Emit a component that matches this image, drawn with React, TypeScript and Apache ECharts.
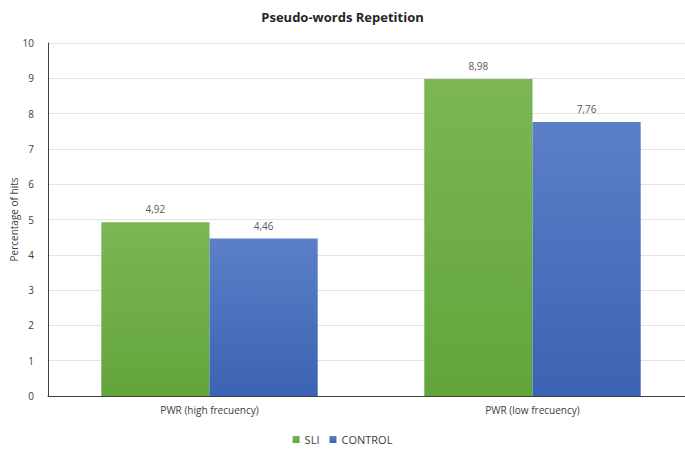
import React, { useEffect, useRef } from "react";
import * as echarts from "echarts";

const categories = ["PWR (high frecuency)", "PWR (low frecuency)"];
const sliValues = [4.92, 8.98];
const controlValues = [4.46, 7.76];
const seriesNames = ["SLI", "CONTROL"];

const FONT = "'Open Sans', 'Noto Sans', sans-serif";

export default function App() {
  const ref = useRef<HTMLDivElement>(null);
  useEffect(() => {
    const chart = echarts.init(ref.current!, null, { renderer: "svg" });
    const label = {
      show: true,
      position: "top",
      distance: 8,
      color: "#595959",
      fontSize: 10,
      fontFamily: FONT,
      formatter: (p: any) => String(p.value.toFixed(2)).replace(".", ","),
    };
    chart.setOption({
      animation: false,
      backgroundColor: "#ffffff",
      title: {
        text: "Pseudo-words Repetition",
        left: "center",
        top: 5,
        textStyle: { fontSize: 13, fontWeight: "bold", color: "#262626", fontFamily: FONT },
      },
      legend: {
        bottom: 3,
        left: "center",
        itemWidth: 7,
        itemHeight: 7,
        itemGap: 10,
        icon: "rect",
        textStyle: { fontSize: 11, color: "#404040", fontFamily: FONT },
        data: seriesNames,
      },
      grid: {
        left: 48,
        top: 43,
        width: 646,
        height: 353,
        outerBoundsMode: "none",
        containLabel: false,
      },
      xAxis: {
        type: "category",
        data: categories,
        axisLine: { lineStyle: { color: "#404040", width: 1 } },
        axisTick: { show: false },
        axisLabel: { fontSize: 10, color: "#404040", fontFamily: FONT, margin: 9 },
      },
      yAxis: {
        type: "value",
        min: 0,
        max: 10,
        interval: 1,
        name: "Percentage of hits",
        nameLocation: "middle",
        nameGap: 29,
        nameMoveOverlap: false,
        nameTextStyle: { fontSize: 10, color: "#404040", fontFamily: FONT },
        axisLine: { show: true, lineStyle: { color: "#404040", width: 1 } },
        axisTick: { show: false },
        axisLabel: { fontSize: 10, color: "#404040", fontFamily: FONT, margin: 14 },
        splitLine: { lineStyle: { color: "#e3e3e3", width: 1 } },
      },
      series: [
        {
          name: seriesNames[0],
          type: "bar",
          data: sliValues,
          barGap: "0%",
          barCategoryGap: "33%",
          itemStyle: {
            color: new echarts.graphic.LinearGradient(0, 0, 0, 1, [
              { offset: 0, color: "#7cb655" },
              { offset: 1, color: "#62a53a" },
            ]),
          },
          label,
        },
        {
          name: seriesNames[1],
          type: "bar",
          data: controlValues,
          itemStyle: {
            color: new echarts.graphic.LinearGradient(0, 0, 0, 1, [
              { offset: 0, color: "#5b80c8" },
              { offset: 1, color: "#3b63b2" },
            ]),
          },
          label,
        },
      ],
    });
    return () => chart.dispose();
  }, []);
  return (
    <div
      ref={ref}
      style={{ position: "absolute", left: 0, top: 0, width: 685, height: 453 }}
    />
  );
}
